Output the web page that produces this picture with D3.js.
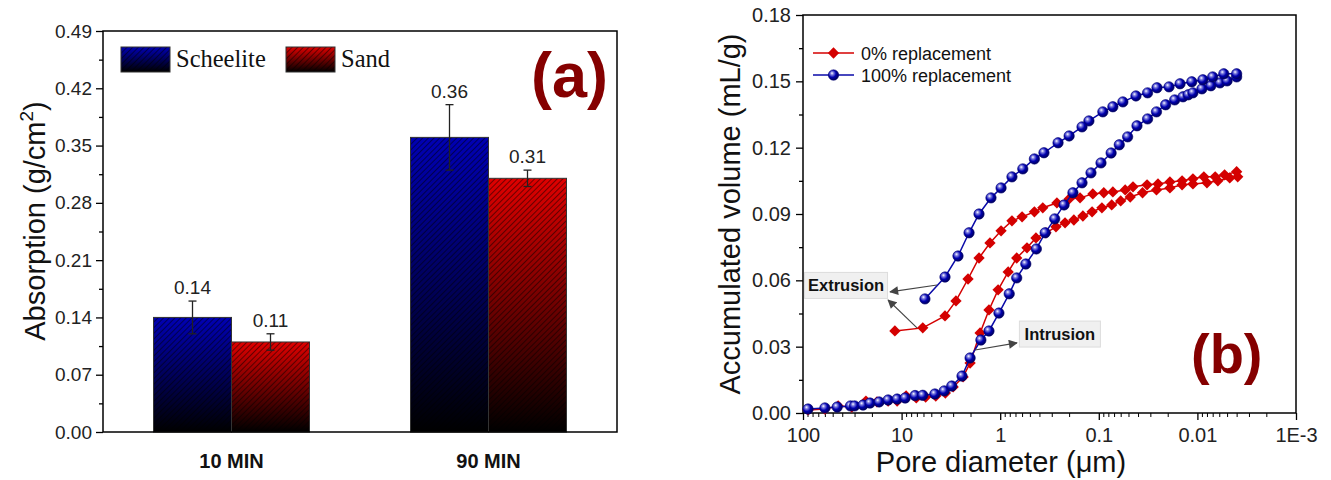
<!DOCTYPE html>
<html>
<head>
<meta charset="utf-8">
<script src="https://cdn.jsdelivr.net/npm/d3@7"></script>
<style>
  body { margin: 0; background: #fff; }
  svg { display: block; font-family: "Liberation Sans", Arial, sans-serif; }
</style>
</head>
<body>
<div id="wrapper"></div>
<script>
// ---- data: panel (a) ----
const categories = ["10 MIN", "90 MIN"];
const seriesNames = ["Scheelite", "Sand"];
const scheeliteValues = [0.14, 0.36];
const scheeliteErrors = [0.02, 0.04];
const sandValues = [0.11, 0.31];
const sandErrors = [0.01, 0.01];
const absTicks = [0, 0.07, 0.14, 0.21, 0.28, 0.35, 0.42, 0.49];

// ---- data: panel (b), [pore diameter µm, volume mL/g] ----
const intrusion0 = [[89,0.0014],[60,0.0018],[44,0.0032],[32,0.0027],[23,0.0054],[17.8,0.0050],[13.7,0.0054],[11.1,0.0054],[9.0,0.0077],[7.1,0.0068],[5.7,0.0072],[4.5,0.0077],[3.6,0.0090],[3.0,0.0118],[2.38,0.0163],[2.02,0.0226],[1.60,0.0362],[1.30,0.0466],[1.05,0.0557],[0.83,0.0638],[0.68,0.0701],[0.535,0.0747],[0.434,0.0792],[0.343,0.0815],[0.272,0.0842],[0.220,0.0860],[0.179,0.0873],[0.145,0.0891],[0.117,0.0910],[0.093,0.0928],[0.074,0.0941],[0.060,0.0959],[0.048,0.0977],[0.036,0.0996],[0.026,0.1009],[0.019,0.1018],[0.0143,0.1032],[0.0111,0.1036],[0.0080,0.1041],[0.0062,0.1050],[0.0047,0.1063],[0.0039,0.1068]];
const extrusion0 = [[0.0040,0.1091],[0.0053,0.1077],[0.0066,0.1068],[0.0086,0.1068],[0.0111,0.1059],[0.0143,0.1050],[0.0190,0.1045],[0.0251,0.1036],[0.0324,0.1032],[0.045,0.1023],[0.054,0.1009],[0.072,0.1000],[0.089,0.0996],[0.115,0.0991],[0.155,0.0973],[0.200,0.0968],[0.266,0.0950],[0.37,0.0928],[0.45,0.0910],[0.60,0.0887],[0.76,0.0869],[0.98,0.0824],[1.27,0.0769],[1.64,0.0701],[2.12,0.0606],[2.81,0.0507],[3.63,0.0439],[6.1,0.0385],[11.7,0.0371]];
const intrusion100 = [[89,0.0018],[60,0.0023],[45,0.0027],[33,0.0032],[30,0.0032],[24.6,0.0036],[20.9,0.0045],[16.9,0.0050],[13.7,0.0059],[11.1,0.0063],[9.2,0.0068],[7.3,0.0079],[6.1,0.0080],[4.6,0.0086],[3.7,0.0100],[3.1,0.0122],[2.44,0.0167],[2.02,0.0249],[1.57,0.0330],[1.30,0.0371],[1.03,0.0452],[0.81,0.0539],[0.68,0.0611],[0.55,0.0674],[0.43,0.0742],[0.35,0.0815],[0.28,0.0878],[0.225,0.0941],[0.183,0.0996],[0.148,0.1041],[0.120,0.1086],[0.095,0.1131],[0.075,0.1176],[0.062,0.1213],[0.051,0.1249],[0.041,0.1299],[0.032,0.1330],[0.026,0.1362],[0.021,0.1394],[0.017,0.1416],[0.014,0.1430],[0.0124,0.1439],[0.0111,0.1448],[0.0090,0.1466],[0.0073,0.1480],[0.0059,0.1493],[0.0050,0.1502],[0.0040,0.1520]];
const extrusion100 = [[0.0040,0.1534],[0.0054,0.1534],[0.0070,0.1520],[0.0088,0.1507],[0.0114,0.1498],[0.0150,0.1489],[0.0194,0.1475],[0.0257,0.1471],[0.032,0.1448],[0.042,0.1434],[0.057,0.1407],[0.072,0.1385],[0.091,0.1362],[0.126,0.1321],[0.148,0.1294],[0.200,0.1253],[0.259,0.1222],[0.36,0.1177],[0.45,0.1149],[0.59,0.1104],[0.76,0.1068],[0.98,0.1018],[1.24,0.0973],[1.64,0.0900],[2.07,0.0815],[2.68,0.0710],[3.63,0.0615],[5.8,0.0516]];
const poreTicks = [100, 10, 1, 0.1, 0.01, 0.001];
const poreTickLabels = ["100", "10", "1", "0.1", "0.01", "1E-3"];
const volTicks = [0, 0.03, 0.06, 0.09, 0.12, 0.15, 0.18];
const legendLabels = ["0% replacement", "100% replacement"];

const svg = d3.select("#wrapper").append("svg")
    .attr("width", 1331)
    .attr("height", 480);

const defs = svg.append("defs");

// vertical gradients for bars
function barGradient(id, top) {
    const g = defs.append("linearGradient")
        .attr("id", id)
        .attr("x1", 0).attr("y1", 0).attr("x2", 0).attr("y2", 1);
    g.append("stop").attr("offset", "0%").attr("stop-color", top);
    g.append("stop").attr("offset", "100%").attr("stop-color", "#000");
}
barGradient("grad-blue", "#0000b4");
barGradient("grad-red", "#e00000");

// hatch
const hatch = defs.append("pattern")
    .attr("id", "hatch")
    .attr("patternUnits", "userSpaceOnUse")
    .attr("width", 4).attr("height", 4)
    .attr("patternTransform", "rotate(45)");
hatch.append("line")
    .attr("x1", 0).attr("y1", 0).attr("x2", 0).attr("y2", 4)
    .attr("stroke", "#000").attr("stroke-opacity", 0.75).attr("stroke-width", 1.3);

// sphere marker
const sphere = defs.append("radialGradient")
    .attr("id", "sphere")
    .attr("cx", "40%").attr("cy", "40%").attr("r", "60%")
    .attr("fx", "35%").attr("fy", "32%");
sphere.append("stop").attr("offset", "0%").attr("stop-color", "#ffffff");
sphere.append("stop").attr("offset", "25%").attr("stop-color", "#8080e0");
sphere.append("stop").attr("offset", "60%").attr("stop-color", "#0000b0");
sphere.append("stop").attr("offset", "100%").attr("stop-color", "#00005a");

// arrowhead
defs.append("marker")
    .attr("id", "arrow")
    .attr("viewBox", "0 0 10 10")
    .attr("refX", 9).attr("refY", 5)
    .attr("markerWidth", 11).attr("markerHeight", 9)
    .attr("markerUnits", "userSpaceOnUse")
    .attr("orient", "auto")
    .append("path")
    .attr("d", "M0,0 L10,5 L0,10 Z")
    .attr("fill", "#444");

const fills = ["url(#grad-blue)", "url(#grad-red)"];

// ================= panel (a) =================
const A = { left: 103, right: 617, top: 31, bottom: 432 };

const x0 = d3.scaleBand()
    .domain(categories)
    .range([A.left, A.right])
    .paddingInner(0.393)
    .paddingOuter(0.1965);

const x1 = d3.scaleBand()
    .domain(seriesNames)
    .range([0, x0.bandwidth()]);

const yAbs = d3.scaleLinear()
    .domain([0, 0.49])
    .range([A.bottom, A.top]);

const barData = [];
categories.forEach((c, i) => {
    barData.push({ cat: c, series: "Scheelite", value: scheeliteValues[i], err: scheeliteErrors[i] });
    barData.push({ cat: c, series: "Sand", value: sandValues[i], err: sandErrors[i] });
});

const panelA = svg.append("g");

const bars = panelA.selectAll(".bar")
    .data(barData)
    .join("g")
    .attr("class", "bar");

bars.append("rect")
    .attr("x", d => x0(d.cat) + x1(d.series))
    .attr("y", d => yAbs(d.value))
    .attr("width", x1.bandwidth())
    .attr("height", d => yAbs(0) - yAbs(d.value))
    .attr("fill", d => fills[seriesNames.indexOf(d.series)]);

bars.append("rect")
    .attr("x", d => x0(d.cat) + x1(d.series))
    .attr("y", d => yAbs(d.value))
    .attr("width", x1.bandwidth())
    .attr("height", d => yAbs(0) - yAbs(d.value))
    .attr("fill", "url(#hatch)")
    .attr("stroke", "#333")
    .attr("stroke-width", 1);

// error bars
const cx = d => x0(d.cat) + x1(d.series) + x1.bandwidth() / 2;
bars.append("line")
    .attr("x1", cx).attr("x2", cx)
    .attr("y1", d => yAbs(d.value + d.err))
    .attr("y2", d => yAbs(d.value - d.err))
    .attr("stroke", "#222").attr("stroke-width", 1.3);
[1, -1].forEach(s => {
    bars.append("line")
        .attr("x1", d => cx(d) - 4).attr("x2", d => cx(d) + 4)
        .attr("y1", d => yAbs(d.value + s * d.err))
        .attr("y2", d => yAbs(d.value + s * d.err))
        .attr("stroke", "#222").attr("stroke-width", 1.3);
});

bars.append("text")
    .attr("x", cx)
    .attr("y", d => yAbs(d.value + d.err) - 7)
    .attr("text-anchor", "middle")
    .attr("font-size", 19)
    .attr("fill", "#222")
    .text(d => d3.format(".2f")(d.value));

// y axis
const yAxisA = panelA.append("g")
    .attr("transform", `translate(${A.left},0)`)
    .call(d3.axisLeft(yAbs).tickValues(absTicks).tickFormat(d3.format(".2f")).tickSize(7).tickPadding(4).tickSizeOuter(0));
yAxisA.selectAll("text").attr("font-size", 19).attr("fill", "#222").attr("font-family", "Liberation Sans, Arial, sans-serif");
yAxisA.selectAll("line").attr("stroke", "#000").attr("stroke-width", 1.3);
yAxisA.select(".domain").remove();

const minorA = panelA.append("g")
    .attr("transform", `translate(${A.left},0)`)
    .call(d3.axisLeft(yAbs).tickValues(d3.range(0.035, 0.49, 0.07)).tickFormat("").tickSize(4).tickSizeOuter(0));
minorA.selectAll("line").attr("stroke", "#000").attr("stroke-width", 1.3);
minorA.select(".domain").remove();

panelA.append("rect")
    .attr("x", A.left).attr("y", A.top)
    .attr("width", A.right - A.left).attr("height", A.bottom - A.top)
    .attr("fill", "none").attr("stroke", "#000").attr("stroke-width", 1.5);

panelA.selectAll(".cat-label")
    .data(categories)
    .join("text")
    .attr("x", d => x0(d) + x0.bandwidth() / 2)
    .attr("y", 468)
    .attr("text-anchor", "middle")
    .attr("font-size", 20)
    .attr("font-weight", "bold")
    .attr("fill", "#111")
    .text(d => d);

const yTitleA = panelA.append("text")
    .attr("transform", "translate(45,221) rotate(-90)")
    .attr("text-anchor", "middle")
    .attr("font-size", 29)
    .attr("fill", "#111");
yTitleA.append("tspan").text("Absorption (g/cm");
yTitleA.append("tspan").attr("font-size", 19).attr("dy", -12).text("2");
yTitleA.append("tspan").attr("dy", 12).text(")");

// legend (a)
const legA = panelA.selectAll(".leg-a")
    .data(seriesNames)
    .join("g")
    .attr("transform", (d, i) => `translate(${121 + i * 165},47)`);
legA.append("rect").attr("width", 49).attr("height", 25).attr("fill", (d, i) => fills[i]);
legA.append("rect").attr("width", 49).attr("height", 25)
    .attr("fill", "url(#hatch)").attr("stroke", "#333").attr("stroke-width", 1);
legA.append("text")
    .attr("x", 55).attr("y", 20)
    .attr("font-family", "Liberation Serif, 'Times New Roman', serif")
    .attr("font-size", 24.5)
    .attr("fill", "#111")
    .text(d => d);

panelA.append("text")
    .attr("x", 531).attr("y", 97)
    .attr("font-size", 63)
    .attr("font-weight", "bold")
    .attr("fill", "#850000")
    .text("(a)");

// ================= panel (b) =================
const B = { left: 803, right: 1296, top: 15, bottom: 413 };

const xPore = d3.scaleLog()
    .domain([100, 0.001])
    .range([B.left, B.right]);

const yVol = d3.scaleLinear()
    .domain([0, 0.18])
    .range([B.bottom, B.top]);

const panelB = svg.append("g");

// axes
const xAxisB = panelB.append("g")
    .attr("transform", `translate(0,${B.bottom})`)
    .call(d3.axisBottom(xPore).tickValues(poreTicks).tickFormat((d, i) => poreTickLabels[i]).tickSize(7).tickPadding(8).tickSizeOuter(0));
xAxisB.selectAll("text").attr("font-size", 20).attr("fill", "#222").attr("font-family", "Liberation Sans, Arial, sans-serif");
xAxisB.selectAll("line").attr("stroke", "#000").attr("stroke-width", 1.3);
xAxisB.select(".domain").remove();

const minorPore = [];
[-3, -2, -1, 0, 1].forEach(k => {
    for (let m = 2; m <= 9; m++) minorPore.push(m * Math.pow(10, k));
});
const xMinorB = panelB.append("g")
    .attr("transform", `translate(0,${B.bottom})`)
    .call(d3.axisBottom(xPore).tickValues(minorPore).tickFormat("").tickSize(4).tickSizeOuter(0));
xMinorB.selectAll("line").attr("stroke", "#000").attr("stroke-width", 1);
xMinorB.select(".domain").remove();

const yAxisB = panelB.append("g")
    .attr("transform", `translate(${B.left},0)`)
    .call(d3.axisLeft(yVol).tickValues(volTicks).tickFormat(d3.format(".2f")).tickSize(7).tickPadding(5).tickSizeOuter(0));
yAxisB.selectAll("text").attr("font-size", 20).attr("fill", "#222").attr("font-family", "Liberation Sans, Arial, sans-serif");
yAxisB.selectAll("line").attr("stroke", "#000").attr("stroke-width", 1.3);
yAxisB.select(".domain").remove();

const yMinorB = panelB.append("g")
    .attr("transform", `translate(${B.left},0)`)
    .call(d3.axisLeft(yVol).tickValues(d3.range(0.015, 0.18, 0.03)).tickFormat("").tickSize(4).tickSizeOuter(0));
yMinorB.selectAll("line").attr("stroke", "#000").attr("stroke-width", 1.3);
yMinorB.select(".domain").remove();

panelB.append("rect")
    .attr("x", B.left).attr("y", B.top)
    .attr("width", B.right - B.left).attr("height", B.bottom - B.top)
    .attr("fill", "none").attr("stroke", "#000").attr("stroke-width", 1.5);

const line = d3.line()
    .x(d => xPore(d[0]))
    .y(d => yVol(d[1]));

const diamond = d3.symbol().type(d3.symbolSquare).size(64);

function drawRed(g, data) {
    g.append("path").attr("d", line(data))
        .attr("fill", "none").attr("stroke", "#d40000").attr("stroke-width", 1.5);
    g.selectAll(null).data(data).join("path")
        .attr("d", diamond)
        .attr("transform", d => `translate(${xPore(d[0])},${yVol(d[1])}) rotate(45)`)
        .attr("fill", "#d40000");
}
function drawBlue(g, data) {
    g.append("path").attr("d", line(data))
        .attr("fill", "none").attr("stroke", "#0a0aa8").attr("stroke-width", 1.5);
    g.selectAll(null).data(data).join("circle")
        .attr("cx", d => xPore(d[0]))
        .attr("cy", d => yVol(d[1]))
        .attr("r", 5.2)
        .attr("fill", "url(#sphere)")
        .attr("stroke", "#000070").attr("stroke-width", 0.6);
}

const plotB = panelB.append("g");
drawRed(plotB.append("g"), intrusion0);
drawRed(plotB.append("g"), extrusion0);
drawBlue(plotB.append("g"), intrusion100);
drawBlue(plotB.append("g"), extrusion100);

// annotations (anchored in data units)
function labelBox(text, d, v, w) {
    const cxp = xPore(d), cyp = yVol(v);
    panelB.append("rect")
        .attr("x", cxp - w / 2).attr("y", cyp - 13)
        .attr("width", w).attr("height", 26)
        .attr("fill", "#f0f0f0").attr("stroke", "#dcdcdc").attr("stroke-width", 1);
    panelB.append("text")
        .attr("x", cxp).attr("y", cyp + 6)
        .attr("text-anchor", "middle")
        .attr("font-size", 16.5).attr("font-weight", "bold")
        .attr("fill", "#111")
        .text(text);
}
function arrow(from, to) {
    panelB.append("line")
        .attr("x1", xPore(from[0])).attr("y1", yVol(from[1]))
        .attr("x2", xPore(to[0])).attr("y2", yVol(to[1]))
        .attr("stroke", "#444").attr("stroke-width", 1.1)
        .attr("marker-end", "url(#arrow)");
}
labelBox("Extrusion", 36.6, 0.0577, 83);
labelBox("Intrusion", 0.248, 0.0357, 81);
arrow([4.37, 0.0579], [13.1, 0.0548]);
arrow([6.98, 0.0385], [13.7, 0.0511]);
arrow([1.80, 0.0285], [0.676, 0.0317]);

// legend (b)
const legB = panelB.selectAll(".leg-b")
    .data(legendLabels)
    .join("g")
    .attr("transform", (d, i) => `translate(813,${53 + i * 22})`);
legB.append("line").attr("x1", 0).attr("x2", 41)
    .attr("stroke", (d, i) => i === 0 ? "#d40000" : "#0a0aa8").attr("stroke-width", 1.5);
legB.filter((d, i) => i === 0).append("path")
    .attr("d", diamond).attr("transform", "translate(20.5,0) rotate(45)").attr("fill", "#d40000");
legB.filter((d, i) => i === 1).append("circle")
    .attr("cx", 20.5).attr("r", 5.2).attr("fill", "url(#sphere)")
    .attr("stroke", "#000070").attr("stroke-width", 0.6);
legB.append("text")
    .attr("x", 48).attr("y", 6.5)
    .attr("font-size", 18)
    .attr("fill", "#111")
    .text(d => d);

panelB.append("text")
    .attr("x", 1191).attr("y", 373)
    .attr("font-size", 56)
    .attr("font-weight", "bold")
    .attr("fill", "#850000")
    .text("(b)");

panelB.append("text")
    .attr("transform", "translate(740,214) rotate(-90)")
    .attr("text-anchor", "middle")
    .attr("font-size", 29)
    .attr("fill", "#111")
    .text("Accumulated volume (mL/g)");

panelB.append("text")
    .attr("x", 1001).attr("y", 472)
    .attr("text-anchor", "middle")
    .attr("font-size", 29)
    .attr("fill", "#111")
    .text("Pore diameter (μm)");
</script>
</body>
</html>
